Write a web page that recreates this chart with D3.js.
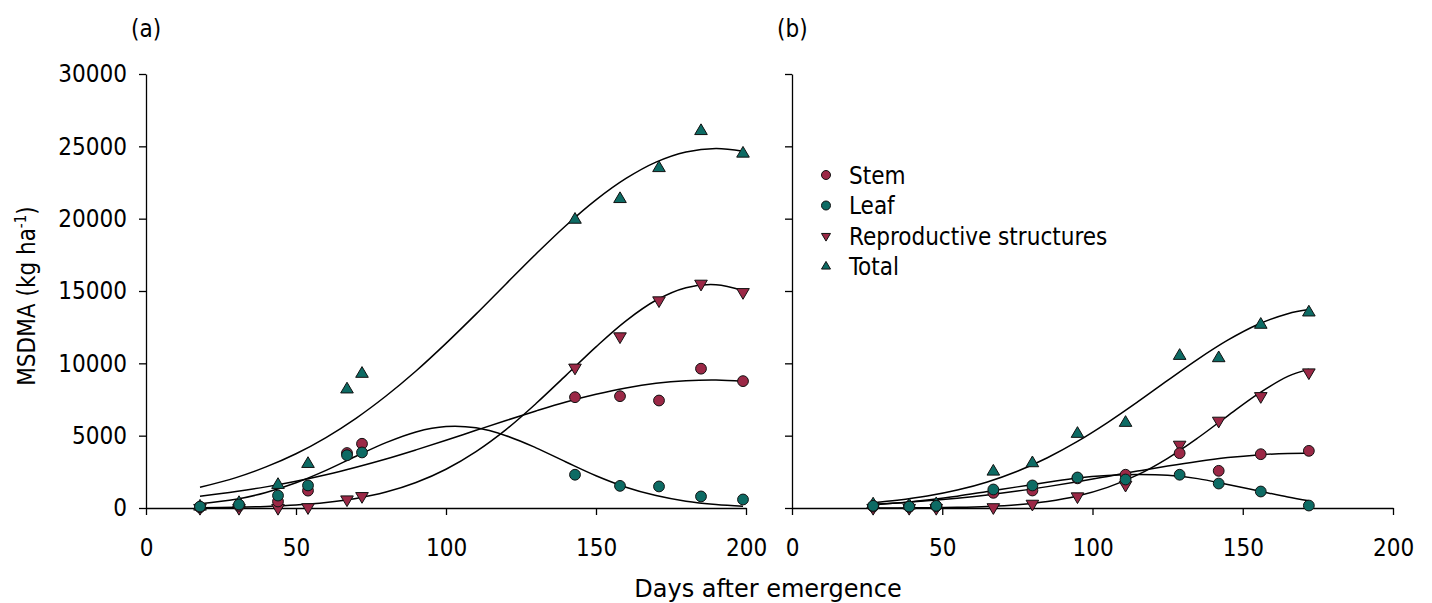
<!DOCTYPE html>
<html>
<head>
<meta charset="utf-8">
<script src="https://cdn.jsdelivr.net/npm/d3@7"></script>
<style>
  html, body { margin: 0; padding: 0; background: #ffffff; }
  svg { display: block; }
  text { font-family: "DejaVu Sans Condensed", "DejaVu Sans", sans-serif; font-stretch: condensed; fill: #000; }
</style>
</head>
<body>
<svg id="chart" width="1432" height="603"></svg>
<script>
// ---------------- Data ----------------
// Panel (a)
const daysA   = [18, 31, 44, 54, 67, 72, 143, 158, 171, 185, 199];
const stemA   = [50, 150, 450, 1200, 3800, 4440, 7660, 7730, 7430, 9630, 8770];
const leafA   = [100, 240, 860, 1560, 3650, 3840, 2300, 1530, 1490, 800, 590];
const reproA  = [0, 0, 0, 50, 590, 820, 9700, 11860, 14350, 15500, 14920];
const totalA  = [100, 350, 1600, 3050, 8200, 9280, 19930, 21360, 23500, 26060, 24500];

// fitted curves, panel (a)
const fitDaysA  = [18, 30, 40, 50, 60, 70, 80, 90, 100, 110, 120, 130, 140, 150, 160, 170, 180, 190, 199];
const stemFitA  = [820, 1140, 1460, 1850, 2300, 2820, 3390, 4020, 4680, 5370, 6050, 6710, 7330, 7860, 8300, 8620, 8800, 8850, 8760];
const leafFitA  = [290, 600, 1070, 1740, 2600, 3580, 4520, 5260, 5630, 5540, 5000, 4160, 3180, 2230, 1440, 860, 470, 240, 120];
const reproFitA = [20, 50, 110, 210, 380, 660, 1100, 1760, 2680, 3900, 5420, 7220, 9170, 11140, 12940, 14360, 15230, 15440, 15030];
const totalFitA = [1430, 2100, 2840, 3750, 4870, 6200, 7740, 9470, 11380, 13400, 15490, 17560, 19530, 21300, 22780, 23910, 24610, 24850, 24660];

// Panel (b)
const daysB   = [27, 39, 48, 67, 80, 95, 111, 129, 142, 156, 172];
const stemB   = [100, 80, 120, 1050, 1210, 2050, 2300, 3790, 2570, 3720, 3950];
const leafB   = [150, 100, 150, 1280, 1560, 2110, 1970, 2300, 1690, 1140, 170];
const reproB  = [0, 0, 0, 50, 290, 800, 1600, 4370, 6030, 7730, 9370];
const totalB  = [250, 180, 270, 2520, 3100, 5130, 5890, 10520, 10360, 12670, 13520];

// fitted curves, panel (b)
const fitDaysB  = [27, 35, 45, 55, 65, 75, 85, 95, 105, 115, 125, 135, 145, 155, 165, 172];
const stemFitB  = [265, 353, 496, 677, 901, 1168, 1477, 1818, 2182, 2551, 2904, 3222, 3485, 3672, 3768, 3780];
const leafFitB  = [230, 340, 560, 820, 1140, 1460, 1780, 2080, 2250, 2310, 2260, 2030, 1620, 1190, 760, 500];
const reproFitB = [4, 8, 21, 50, 111, 232, 454, 830, 1424, 2286, 3434, 4838, 6375, 7870, 9094, 9600];
const totalFitB = [364, 530, 823, 1237, 1802, 2542, 3475, 4600, 5901, 7328, 8818, 10277, 11599, 12683, 13433, 13720];

const xTicks = [0, 50, 100, 150, 200];
const yTicks = [0, 5000, 10000, 15000, 20000, 25000, 30000];

const seriesNames = ["Stem", "Leaf", "Reproductive structures", "Total"];
const panelLabels = ["(a)", "(b)"];
const xTitle = "Days after emergence";

// ---------------- Styling ----------------
const RED = "#9b2846";
const TEAL = "#0d6b64";
const FONT = 24;

const svg = d3.select("#chart");

const y = d3.scaleLinear().domain([0, 30000]).range([508, 74]);
const xA = d3.scaleLinear().domain([0, 200]).range([146, 746]);
const xB = d3.scaleLinear().domain([0, 200]).range([792, 1393]);

function styleAxis(g) {
  g.attr("font-family", null).attr("font-size", null);
  g.selectAll("path.domain").attr("stroke", "#000").attr("stroke-width", 1.3);
  g.selectAll(".tick line").attr("stroke", "#000").attr("stroke-width", 1.3);
  g.selectAll(".tick text").style("font-size", FONT + "px");
}

// marker shapes
function triUp(s) { // s = half-width
  const h = s * 1.7;
  return `M0,${-h * 2 / 3}L${s},${h / 3}L${-s},${h / 3}Z`;
}
function triDown(s) {
  const h = s * 1.7;
  return `M0,${h * 2 / 3}L${s},${-h / 3}L${-s},${-h / 3}Z`;
}

function drawPanel(x, days, stem, leaf, repro, total, fitDays, fits, showYLabels, label) {
  // axes
  const gx = svg.append("g").attr("transform", `translate(0,${y(0)})`)
    .call(d3.axisBottom(x).tickValues(xTicks).tickSize(7).tickSizeOuter(0).tickPadding(24));
  styleAxis(gx);

  const gy = svg.append("g").attr("transform", `translate(${x(0)},0)`)
    .call(d3.axisLeft(y).tickValues(yTicks).tickSize(7).tickSizeOuter(0).tickPadding(12)
      .tickFormat(showYLabels ? d3.format("d") : () => ""));
  styleAxis(gy);

  // fitted curves
  const line = d3.line().curve(d3.curveCatmullRom.alpha(0.5))
    .x(d => x(d[0])).y(d => y(d[1]));
  fits.forEach(f => {
    svg.append("path")
      .attr("d", line(fitDays.map((d, i) => [d, f[i]])))
      .attr("fill", "none").attr("stroke", "#000").attr("stroke-width", 1.5);
  });

  // markers: order so that leaf circles are on top of stem circles
  const g = svg.append("g").attr("stroke", "#111").attr("stroke-width", 1);
  g.selectAll(".tot").data(days.map((d, i) => [d, total[i]])).join("path")
    .attr("transform", d => `translate(${x(d[0])},${y(d[1])})`)
    .attr("d", triUp(6.3)).attr("fill", TEAL);
  g.selectAll(".rep").data(days.map((d, i) => [d, repro[i]])).join("path")
    .attr("transform", d => `translate(${x(d[0])},${y(d[1])})`)
    .attr("d", triDown(6.3)).attr("fill", RED);
  g.selectAll(".stem").data(days.map((d, i) => [d, stem[i]])).join("circle")
    .attr("cx", d => x(d[0])).attr("cy", d => y(d[1])).attr("r", 5.4).attr("fill", RED);
  g.selectAll(".leaf").data(days.map((d, i) => [d, leaf[i]])).join("circle")
    .attr("cx", d => x(d[0])).attr("cy", d => y(d[1])).attr("r", 5.4).attr("fill", TEAL);

  svg.append("text").attr("x", x(0) - 15).attr("y", 37)
    .attr("text-anchor", "start").style("font-size", FONT + "px").text(label);
}

drawPanel(xA, daysA, stemA, leafA, reproA, totalA, fitDaysA,
  [stemFitA, leafFitA, reproFitA, totalFitA], true, panelLabels[0]);
drawPanel(xB, daysB, stemB, leafB, reproB, totalB, fitDaysB,
  [stemFitB, leafFitB, reproFitB, totalFitB], false, panelLabels[1]);

// y-axis title
const yt = svg.append("text")
  .attr("transform", "translate(35,296) rotate(-90)")
  .attr("text-anchor", "middle").style("font-size", FONT + "px");
yt.append("tspan").text("MSDMA (kg ha");
yt.append("tspan").attr("dy", -9).style("font-size", "15px").text("-1");
yt.append("tspan").attr("dy", 9).text(")");

// x-axis title
svg.append("text").attr("x", 768).attr("y", 597)
  .attr("text-anchor", "middle")
  .style("font-family", "'DejaVu Sans', sans-serif").style("font-stretch", "normal")
  .style("font-size", "24px").text(xTitle);

// legend
const legendX = 826, legendY0 = 175, legendStep = 30.5;
const lg = svg.append("g");
seriesNames.forEach((name, i) => {
  const cy = legendY0 + i * legendStep;
  const m = lg.append("g").attr("transform", `translate(${legendX},${cy})`)
    .attr("stroke", "#111").attr("stroke-width", 1);
  if (i === 0) m.append("circle").attr("r", 4.5).attr("fill", RED);
  if (i === 1) m.append("circle").attr("r", 4.5).attr("fill", TEAL);
  if (i === 2) m.append("path").attr("d", triDown(4.5)).attr("fill", RED);
  if (i === 3) m.append("path").attr("d", triUp(4.5)).attr("fill", TEAL);
  lg.append("text").attr("x", legendX + 23).attr("y", cy + 8.5)
    .style("font-size", FONT + "px").text(name);
});
</script>
</body>
</html>
